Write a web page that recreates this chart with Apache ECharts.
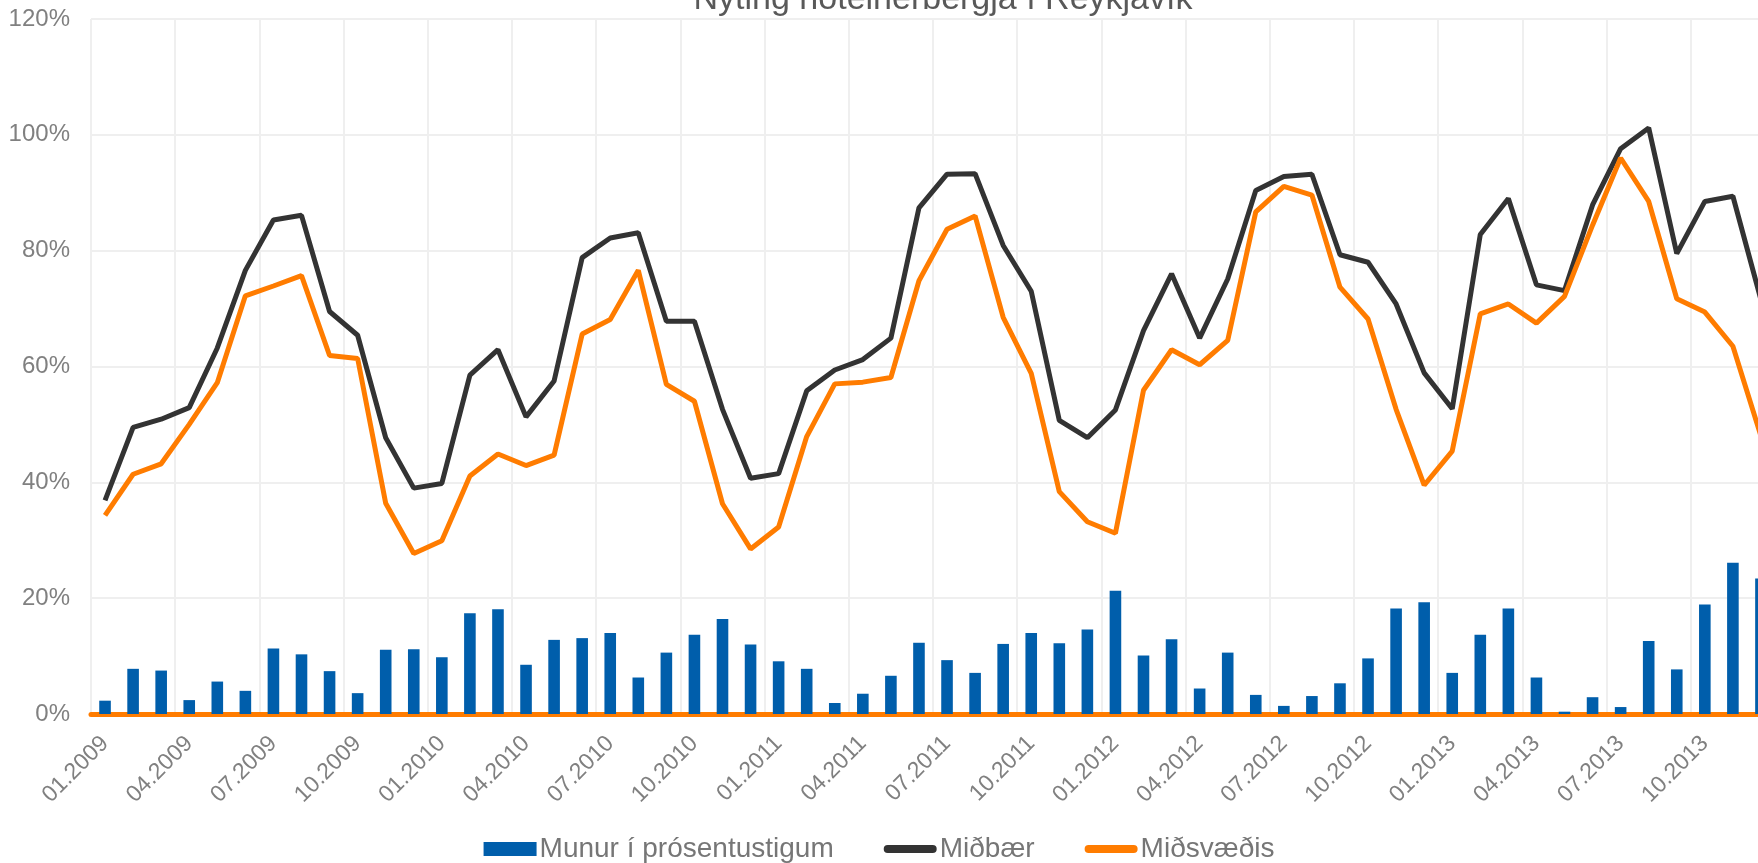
<!DOCTYPE html>
<html>
<head>
<meta charset="utf-8">
<title>Nýting hótelherbergja í Reykjavík</title>
<script src="https://cdn.jsdelivr.net/npm/echarts@6/dist/echarts.min.js"></script>
<style>
  html, body { margin: 0; padding: 0; background: #fff; }
  #main { width: 1758px; height: 863px; }
</style>
</head>
<body>
<div id="main"></div>
<script>
// mánuðir og ár á x-ás
const months = ['01', '02', '03', '04', '05', '06', '07', '08', '09', '10', '11', '12'];
const years = ['2009', '2010', '2011', '2012', '2013'];

// nýting í miðbæ (%)
const midbaer = [
  36.9, 49.5, 50.9, 52.9, 63.2, 76.6, 85.3, 86.1, 69.5, 65.4, 47.7, 39.0,
  39.8, 58.5, 62.9, 51.3, 57.5, 78.8, 82.2, 83.1, 67.8, 67.8, 52.6, 40.7,
  41.5, 55.8, 59.4, 61.2, 64.9, 87.4, 93.2, 93.3, 80.9, 73.0, 50.7, 47.7,
  52.5, 66.2, 76.0, 64.9, 75.1, 90.4, 92.8, 93.2, 79.3, 78.0, 70.8, 58.9,
  52.7, 82.8, 89.0, 74.1, 73.1, 87.9, 97.6, 101.2, 79.5, 88.5, 89.4, 71.5
];

// nýting miðsvæðis (%)
const midsvaedis = [
  34.3, 41.4, 43.2, 50.0, 57.2, 72.2, 73.9, 75.7, 61.9, 61.4, 36.4, 27.7,
  29.9, 41.1, 44.9, 42.9, 44.7, 65.6, 68.1, 76.6, 56.9, 54.0, 36.3, 28.5,
  32.3, 47.9, 57.0, 57.3, 58.1, 74.8, 83.7, 86.0, 68.5, 58.8, 38.4, 33.2,
  31.2, 55.9, 62.9, 60.3, 64.5, 86.7, 91.1, 89.6, 73.7, 68.2, 52.6, 39.5,
  45.4, 69.1, 70.8, 67.5, 72.1, 84.4, 96.0, 88.5, 71.7, 69.4, 63.5, 48.0
];

// munur í prósentustigum
const munur = [
  2.3, 7.8, 7.5, 2.4, 5.6, 4.0, 11.3, 10.3, 7.4, 3.6, 11.1, 11.2,
  9.8, 17.4, 18.1, 8.5, 12.8, 13.1, 14.0, 6.3, 10.6, 13.7, 16.4, 12.0,
  9.1, 7.8, 1.9, 3.5, 6.6, 12.3, 9.3, 7.1, 12.1, 14.0, 12.2, 14.6,
  21.3, 10.1, 12.9, 4.4, 10.6, 3.3, 1.4, 3.1, 5.3, 9.6, 18.2, 19.3,
  7.1, 13.7, 18.2, 6.3, 0.4, 2.9, 1.2, 12.6, 7.7, 18.9, 26.1, 23.4
];

let categories = [];
for (let y of years) {
  for (let m of months) {
    categories.push(m + '.' + y);
  }
}

const font = 'Liberation Sans, Arial, sans-serif';
// lína með rúnnuðum endum fyrir skýringar
const lineIcon = 'path://M4,0 L49,0 A4,4 0 0 1 49,8 L4,8 A4,4 0 0 1 4,0 Z';

const chart = echarts.init(document.getElementById('main'), null, { renderer: 'canvas' });

const option = {
  animation: false,
  backgroundColor: '#ffffff',
  title: {
    text: 'Nýting hótelherbergja í Reykjavík',
    left: 938,
    top: -22,
    textAlign: 'center',
    textStyle: { fontFamily: font, fontSize: 34, fontWeight: 'normal', color: '#595959' }
  },
  legend: {
    left: 'center',
    top: 830,
    itemWidth: 53,
    itemHeight: 14,
    itemGap: 50,
    symbolKeepAspect: true,
    textStyle: { fontFamily: font, fontSize: 28, color: '#767676', padding: [0, 0, 0, -2] },
    data: [
      { name: 'Munur í prósentustigum', icon: 'rect' },
      { name: 'Miðbær', icon: lineIcon },
      { name: 'Miðsvæðis', icon: lineIcon }
    ]
  },
  grid: {
    left: 91,
    top: 19,
    width: 1684,
    height: 695,
    containLabel: false,
    outerBoundsMode: 'none'
  },
  xAxis: {
    type: 'category',
    data: categories,
    boundaryGap: true,
    axisLine: { show: true, lineStyle: { color: '#FF7C00', width: 5 } },
    axisTick: { show: false, interval: 2 },
    axisLabel: {
      interval: 2,
      rotate: 45,
      margin: 24,
      fontFamily: font,
      fontSize: 23,
      color: '#808080'
    },
    splitLine: { show: true, interval: 2, lineStyle: { color: '#EFEFEF', width: 2 } },
    offset: 2
  },
  yAxis: {
    type: 'value',
    min: 0,
    max: 120,
    interval: 20,
    axisLine: { show: false },
    axisTick: { show: false },
    axisLabel: {
      formatter: '{value}%',
      margin: 21,
      fontFamily: font,
      fontSize: 24,
      color: '#808080'
    },
    splitLine: { lineStyle: { color: '#EFEFEF', width: 2 } }
  },
  series: [
    {
      name: 'Munur í prósentustigum',
      type: 'bar',
      data: munur,
      barWidth: 11.6,
      itemStyle: { color: '#005EAB' }
    },
    {
      name: 'Miðbær',
      type: 'line',
      data: midbaer,
      symbol: 'none',
      lineStyle: { color: '#333333', width: 5 },
      itemStyle: { color: '#333333' }
    },
    {
      name: 'Miðsvæðis',
      type: 'line',
      data: midsvaedis,
      symbol: 'none',
      lineStyle: { color: '#FF7C00', width: 5 },
      itemStyle: { color: '#FF7C00' }
    }
  ]
};

chart.setOption(option);
</script>
</body>
</html>
